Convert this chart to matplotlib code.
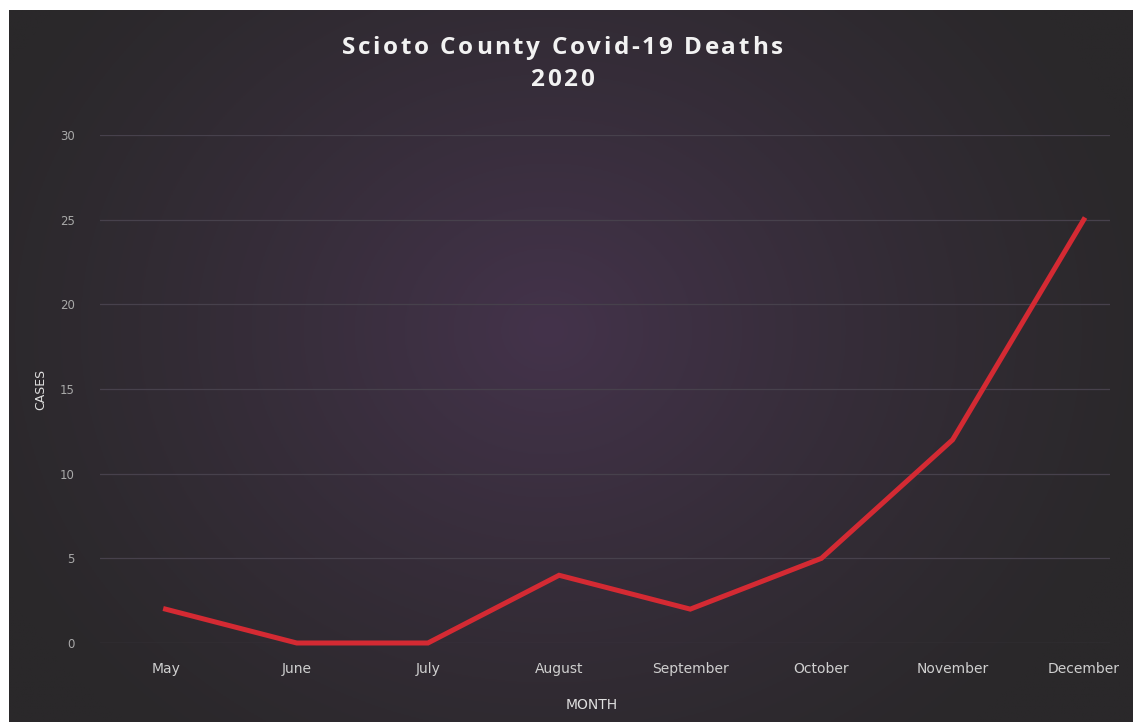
import numpy as np
import matplotlib
matplotlib.use('Agg')
import matplotlib.pyplot as plt
from matplotlib.textpath import TextToPath
from matplotlib.font_manager import FontProperties

months = ['May', 'June', 'July', 'August', 'September', 'October', 'November', 'December']
deaths = [2, 0, 0, 4, 2, 5, 12, 25]
yticks = [0, 5, 10, 15, 20, 25, 30]
title_lines = ['Scioto County Covid-19 Deaths', '2020']

W, H = 1133, 728
fig = plt.figure(figsize=(W/100, H/100), dpi=100)
fig.patch.set_facecolor('white')

# dark panel with a soft purple glow in the middle
bg = fig.add_axes([9/W, 6/H, (W-9)/W, (722-10)/H])
bg.set_axis_off()
yy, xx = np.mgrid[0:1:300j, 0:1:500j]
r = np.sqrt(((xx-0.48)/0.55)**2 + ((yy-0.55)/0.75)**2)
t = np.clip(1-r, 0, 1)**1.2
c_out = np.array([0x2a, 0x28, 0x2a])/255
c_in = np.array([0x44, 0x33, 0x4b])/255
img = c_out[None, None, :] + (c_in-c_out)[None, None, :]*t[:, :, None]
bg.imshow(img, aspect='auto', extent=[0, 1, 0, 1], origin='lower')

ax = fig.add_axes([100/W, (H-643)/H, 1010/W, (643-135)/H])
ax.patch.set_alpha(0)
x = np.arange(len(months))
ax.plot(x, deaths, color='#d42a33', lw=3.6, solid_joinstyle='miter', clip_on=False, zorder=3)
ax.set_xlim(-0.5, 7.2)
ax.set_ylim(0, 30)
ax.set_yticks(yticks)
ax.set_xticks(x)
ax.set_xticklabels(months)
for s in ax.spines.values():
    s.set_visible(False)
ax.tick_params(length=0)
ax.tick_params(axis='x', colors='#cfcfcf', labelsize=10, pad=14)
ax.tick_params(axis='y', colors='#a9a9a9', labelsize=8.5, pad=18)
ax.grid(axis='y', color='#47414c', lw=0.9)
ax.set_axisbelow(True)

ax.set_xlabel('MONTH', color='#e0e0e0', fontsize=10)
ax.xaxis.set_label_coords((592-100)/1010, -(698-643)/(643-135))
ax.set_ylabel('CASES', color='#e0e0e0', fontsize=9)
ax.yaxis.set_label_coords(-(100-47)/1010, 0.5)

# title with wide letter spacing, drawn char by char
fp = FontProperties(family='Open Sans', weight='bold', size=17.5)
ttp = TextToPath()
spacing = 2.6  # extra px between letters
for line, yc in zip(title_lines, [48, 80]):
    widths = []
    for ch in line:
        w, h, d = ttp.get_text_width_height_descent(ch, fp, ismath=False)
        widths.append(w*100/72)
    total = sum(widths) + spacing*(len(line)-1)
    xpos = 562 - total/2
    for ch, w in zip(line, widths):
        fig.text(xpos/W, 1-yc/H, ch, ha='left', va='center', color='#f2f2f2',
                 fontproperties=fp)
        xpos += w + spacing

fig.savefig('out.png', dpi=100)
